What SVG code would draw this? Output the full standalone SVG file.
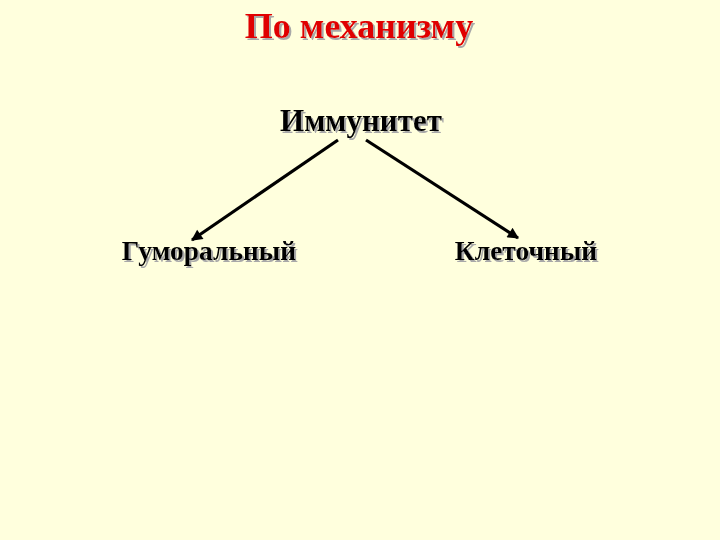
<svg xmlns="http://www.w3.org/2000/svg" width="720" height="540" viewBox="0 0 720 540">
<defs>
<filter id="sh" x="-10%" y="-30%" width="120%" height="160%">
<feDropShadow dx="2" dy="2" stdDeviation="0.3" flood-color="#a8a8a8" flood-opacity="1"/>
</filter>
<marker id="ah" viewBox="0 0 10 10" refX="9" refY="5" markerWidth="4" markerHeight="3.5" orient="auto" markerUnits="strokeWidth">
<path d="M0,0 L10,5 L0,10 z" fill="#000"/>
</marker>
<style>
text{font-family:"Liberation Serif","Times New Roman",serif;font-weight:bold;filter:url(#sh);}
.title{fill:#e00000;font-size:36px;}
.node{fill:#000;font-size:31px;}
.leaf{fill:#000;font-size:27.5px;}
.conn line{stroke:#000;stroke-width:3.2;marker-end:url(#ah);}
</style>
</defs>
<rect width="720" height="540" fill="#ffffdd"/>
<g id="title"><text class="title" x="359" y="38" text-anchor="middle">По механизму</text></g>
<g id="immunitet"><text class="node" x="361" y="131" text-anchor="middle">Иммунитет</text></g>
<g id="gumoralny"><text class="leaf" x="209" y="260" text-anchor="middle">Гуморальный</text></g>
<g id="kletochny"><text class="leaf" x="526" y="260" text-anchor="middle">Клеточный</text></g>
<g id="connectors" class="conn">
<line x1="338" y1="140" x2="192" y2="240"/>
<line x1="366" y1="140" x2="518" y2="238"/>
</g>
</svg>
